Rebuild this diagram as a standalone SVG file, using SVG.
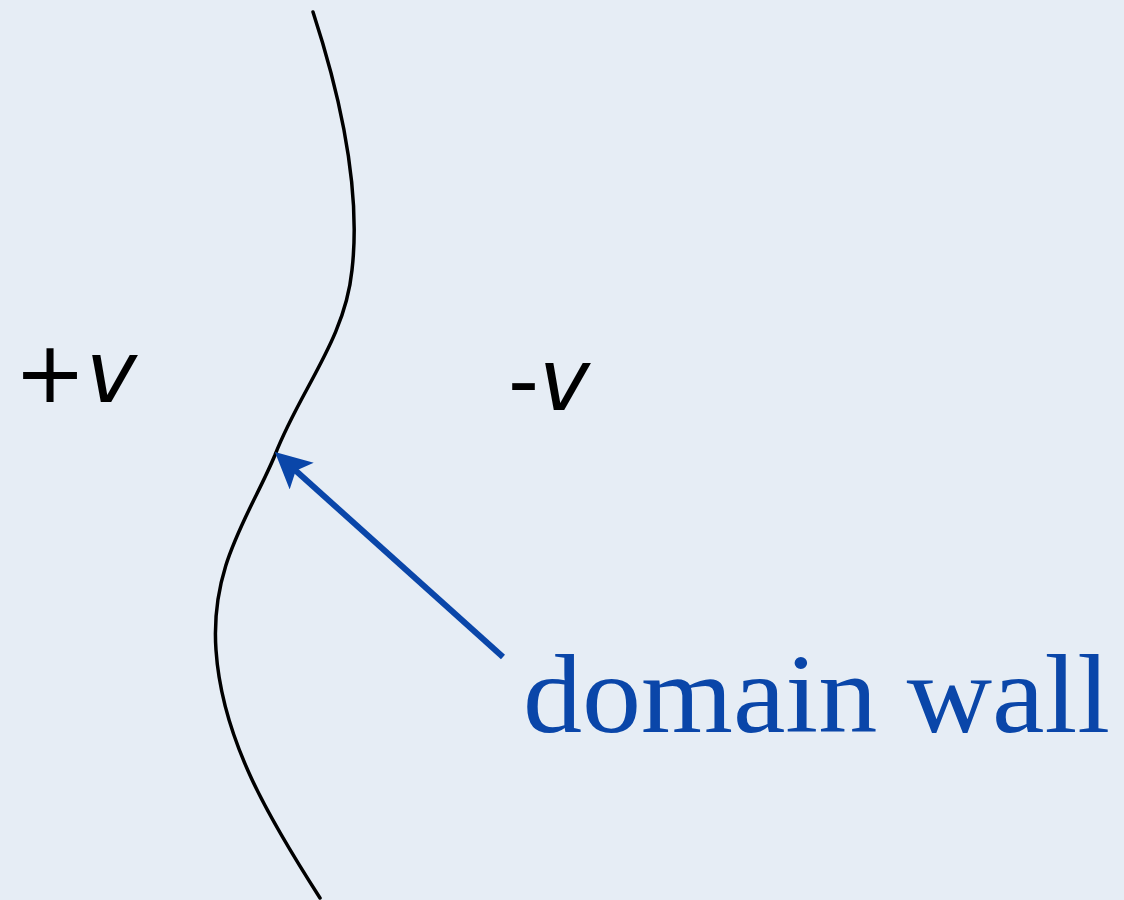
<svg xmlns="http://www.w3.org/2000/svg" width="1124" height="900" viewBox="0 0 1124 900">
<style>
.bg{fill:#e6edf5}
.wall{fill:none;stroke:#000;stroke-width:3.5;stroke-linecap:round}
.conn{fill:none;stroke:#0a46a9;stroke-width:6}
.lab{font-family:"DejaVu Sans",sans-serif;font-size:86px;fill:#000}
.dw{font-family:"Liberation Serif",serif;font-size:112px;fill:#0a46a9}
</style>
<defs>
<marker id="ah" markerUnits="userSpaceOnUse" viewBox="0 0 36 36" markerWidth="36" markerHeight="36" refX="9" refY="18" orient="auto">
<path d="M0,0 L36,18 L0,36 L8,18 z" fill="#0a46a9"/>
</marker>
</defs>
<rect class="bg" x="0" y="0" width="1124" height="900"/>
<g id="wall">
<path class="wall" d="M313,12 C345,110 360,200 352,270 C345,340 300,390 275,455 C250,515 210,565 216,650 C222,740 270,820 320,898"/>
</g>
<g id="plus-v"><text class="lab" x="14" y="402">+<tspan font-style="italic">v</tspan></text></g>
<g id="minus-v"><text class="lab" x="508" y="410">-<tspan font-style="italic">v</tspan></text></g>
<g id="label"><text class="dw" x="523" y="732" textLength="587" lengthAdjust="spacingAndGlyphs">domain wall</text></g>
<g id="connectors">
<line class="conn" x1="503" y1="657" x2="295" y2="470" marker-end="url(#ah)"/>
</g>
</svg>
